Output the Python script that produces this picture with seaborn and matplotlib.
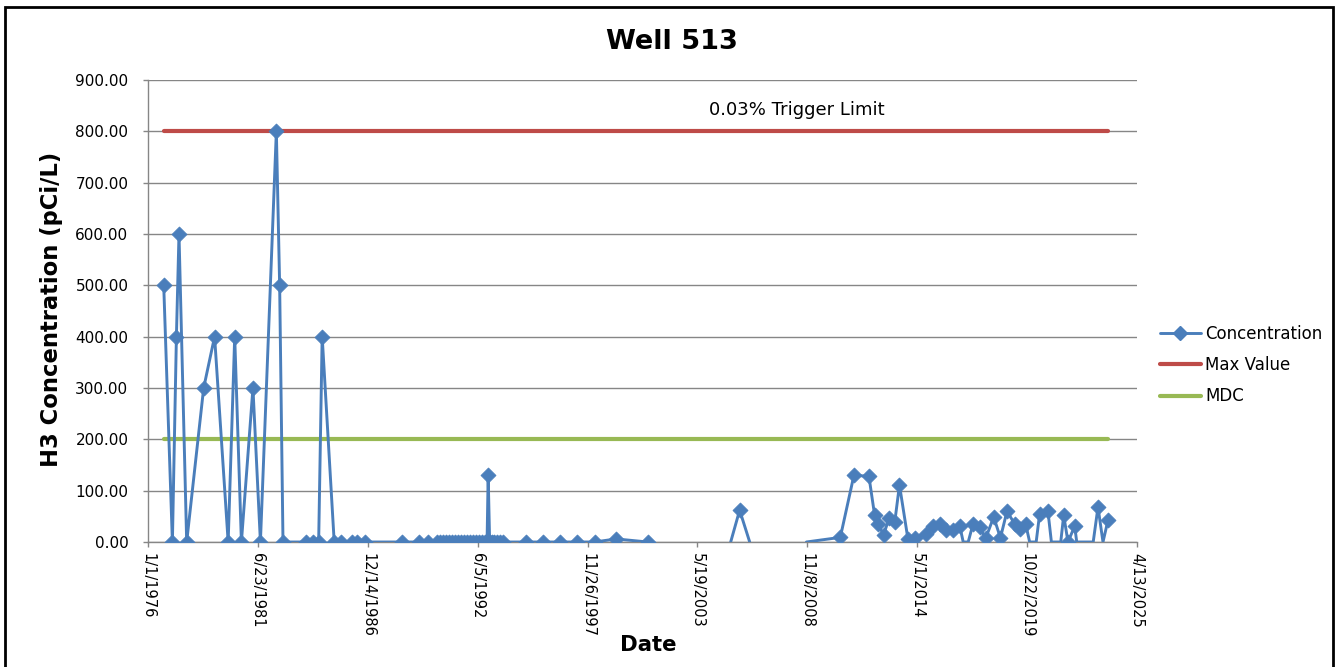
import matplotlib
matplotlib.use("Agg")
import numpy as np
import pandas as pd
import seaborn as sns
import matplotlib.pyplot as plt
from matplotlib.lines import Line2D
from matplotlib.patches import Rectangle
from matplotlib.ticker import FuncFormatter, MultipleLocator

# ---------------- data ----------------
conc_dates = [
    "1976-10-13", "1977-03-20", "1977-06-01", "1977-07-18", "1977-12-05",
    "1978-10-10", "1979-04-27", "1979-12-30", "1980-04-27", "1980-08-27",
    "1981-03-25", "1981-08-08", "1982-05-25", "1982-07-24", "1982-09-23",
    "1983-11-22", "1984-03-21", "1984-07-03", "1984-09-05", "1985-04-12",
    "1985-08-21", "1986-02-24", "1986-05-26", "1986-10-19", "1988-09-05",
    "1989-06-28", "1989-12-17", "1990-05-21", "1990-07-15", "1990-09-08",
    "1990-11-02", "1990-12-27", "1991-02-20", "1991-04-16", "1991-06-10",
    "1991-08-04", "1991-09-28", "1991-11-22", "1992-01-16", "1992-03-11",
    "1992-05-05", "1992-06-29", "1992-08-23", "1992-10-17", "1992-11-23",
    "1992-12-13", "1993-01-09", "1993-02-14", "1993-04-01", "1993-05-17",
    "1993-07-11", "1993-09-09", "1994-11-08", "1995-09-06", "1996-07-06",
    "1997-05-12", "1998-04-04", "1999-04-30", "2000-11-24",
    "2005-01-13", "2005-06-25", "2005-12-25",
    "2008-10-22", "2010-07-01", "2011-03-06", "2011-12-04", "2012-03-17",
    "2012-05-17", "2012-08-28", "2012-12-03", "2013-03-17", "2013-06-12",
    "2013-11-14", "2014-03-25", "2014-10-16", "2015-02-13", "2015-06-14",
    "2015-10-13", "2016-02-11", "2016-06-12", "2016-08-15", "2016-11-14",
    "2017-02-09", "2017-06-10", "2017-09-28", "2018-02-21", "2018-06-23",
    "2018-10-21", "2019-03-10", "2019-06-09", "2019-09-26", "2019-12-07",
    "2020-04-04", "2020-06-06", "2020-11-04", "2021-01-06", "2021-06-25",
    "2021-08-18", "2021-11-04", "2022-03-06", "2022-04-12", "2023-02-06",
    "2023-05-04", "2023-08-03", "2023-11-01",
]
conc_values = [
    500, 0, 400, 600, 0,
    300, 400, 0, 400, 0,
    300, 0, 800, 500, 0,
    0, 0, 0, 400, 0,
    0, 0, 0, 0, 0,
    0, 0, 0, 0, 0,
    0, 0, 0, 0, 0,
    0, 0, 0, 0, 0,
    0, 0, 0, 0, 0,
    130, 0, 0, 0, 0,
    0, 0, 0, 0, 0,
    0, 0, 6, 0,
    0, 62, 0,
    0, 9, 130, 128, 52,
    35, 14, 46, 38, 111,
    5, 7, 16, 32, 35,
    24, 24, 32, 0, 0,
    35, 29, 7, 49, 8,
    60, 35, 26, 35, 0,
    0, 55, 60, 0, 0,
    52, 0, 31, 0, 0,
    68, 0, 42,
]
# 1 = point drawn with a diamond marker, 0 = line vertex only
conc_marked = [
    1, 1, 1, 1, 1,
    1, 1, 1, 1, 1,
    1, 1, 1, 1, 1,
    1, 1, 1, 1, 1,
    1, 1, 1, 1, 1,
    1, 1, 1, 1, 1,
    1, 1, 1, 1, 1,
    1, 1, 1, 1, 1,
    1, 1, 1, 1, 1,
    1, 1, 1, 1, 1,
    1, 1, 1, 1, 1,
    1, 1, 1, 1,
    0, 1, 0,
    0, 1, 1, 1, 1,
    1, 1, 1, 1, 1,
    1, 1, 1, 1, 1,
    1, 1, 1, 0, 0,
    1, 1, 1, 1, 1,
    1, 1, 1, 1, 0,
    0, 1, 1, 0, 0,
    1, 1, 1, 0, 0,
    1, 0, 1,
]
# the concentration line is broken after these dates
line_breaks = ["2000-11-24", "2005-12-25"]

max_value = 800.0   # 0.03% trigger limit
mdc_value = 200.0

x_start, x_step_days, n_xticks = "1976-01-01", 2000, 10
y_max, y_step = 900, 100

title = "Well 513"
y_label = "H3 Concentration (pCi/L)"
x_label = "Date"
trigger_text = "0.03% Trigger Limit"
legend_labels = ["Concentration", "Max Value", "MDC"]

# ---------------- colours ----------------
c_blue = "#4A7EBB"
c_red = "#BE4B48"
c_green = "#98B954"
c_grid = "#868686"

# ---------------- frame ----------------
sns.set_theme(style="white")
plt.rcParams["font.family"] = ["DejaVu Sans"]
plt.rcParams["text.color"] = "black"
plt.rcParams["xtick.color"] = "black"
plt.rcParams["ytick.color"] = "black"

W, H = 1339, 667
fig = plt.figure(figsize=(W / 100, H / 100), dpi=100)
fig.patch.set_facecolor("white")
L, R, T, B = 148, 1137, 80, 542
ax = fig.add_axes([L / W, 1 - B / H, (R - L) / W, (B - T) / H])
ax.set_facecolor("white")

df = pd.DataFrame({
    "date": pd.to_datetime(conc_dates),
    "value": conc_values,
    "marked": conc_marked,
})
breaks = pd.to_datetime(line_breaks)
df["segment"] = [int((d > breaks).sum()) for d in df["date"]]

first, last = df["date"].min(), df["date"].max()
ref_df = pd.DataFrame({
    "date": [first, last, first, last],
    "value": [max_value, max_value, mdc_value, mdc_value],
    "series": ["Max Value", "Max Value", "MDC", "MDC"],
})

sns.lineplot(data=ref_df, x="date", y="value", hue="series",
             palette={"Max Value": c_red, "MDC": c_green},
             linewidth=3.0, ax=ax, legend=False, zorder=3)
sns.lineplot(data=df, x="date", y="value", units="segment", estimator=None,
             color=c_blue, linewidth=2.1, ax=ax, legend=False, zorder=4)
sns.scatterplot(data=df[df["marked"] == 1], x="date", y="value", marker="D",
                s=58, color=c_blue, edgecolor=c_blue, linewidth=0.6,
                ax=ax, legend=False, zorder=5)

# axes
x0 = pd.Timestamp(x_start)
xticks = [x0 + pd.Timedelta(days=x_step_days * i) for i in range(n_xticks)]
ax.set_xlim(xticks[0], xticks[-1])
ax.set_ylim(0, y_max)
ax.set_xticks(xticks)
ax.set_xticklabels([f"{d.month}/{d.day}/{d.year}" for d in xticks],
                   rotation=-90, ha="center", va="top", fontsize=10.5)
ax.yaxis.set_major_locator(MultipleLocator(y_step))
ax.yaxis.set_major_formatter(FuncFormatter(lambda v, p: f"{v:.2f}"))
ax.tick_params(axis="y", labelsize=11, length=3.6, width=1, color=c_grid,
               direction="out", pad=10.5, left=True, labelcolor="black")
ax.tick_params(axis="x", length=3.6, width=1, color=c_grid, direction="out",
               pad=4.5, bottom=True, labelcolor="black")
ax.set_xlabel("")
ax.set_ylabel("")
ax.yaxis.grid(True, color=c_grid, linewidth=1)
ax.xaxis.grid(False)
ax.set_axisbelow(True)
for s in ["top", "right"]:
    ax.spines[s].set_visible(False)
for s in ["left", "bottom"]:
    ax.spines[s].set_color(c_grid)
    ax.spines[s].set_linewidth(1)

# texts
fig.text(672 / W, 1 - 42 / H, title, ha="center", va="center",
         fontsize=19.5, fontweight="bold", color="black")
fig.text(52 / W, 1 - 309 / H, y_label, ha="center", va="center",
         rotation=90, fontsize=16.3, fontweight="bold", color="black")
fig.text(648 / W, 1 - 645 / H, x_label, ha="center", va="center",
         fontsize=15.3, fontweight="bold", color="black")
fig.text(797 / W, 1 - 110 / H, trigger_text, ha="center", va="center",
         fontsize=13, color="black")

# legend
handles = [
    Line2D([], [], color=c_blue, lw=2.1, marker="D", ms=7,
           markerfacecolor=c_blue, markeredgecolor=c_blue),
    Line2D([], [], color=c_red, lw=3.0),
    Line2D([], [], color=c_green, lw=3.0),
]
leg = fig.legend(handles, legend_labels, loc="center left",
                 bbox_to_anchor=(1160 / W, 1 - 365 / H), frameon=False,
                 fontsize=12, handlelength=2.45, handletextpad=0.25,
                 labelspacing=0.8, borderpad=0, borderaxespad=0)
for t in leg.get_texts():
    t.set_color("black")

# chart border
fig.patches.append(Rectangle((5 / W, -0.05), (1333 - 5) / W, 1 - 7 / H + 0.05,
                             transform=fig.transFigure, fill=False,
                             edgecolor="black", linewidth=2, zorder=10))

fig.savefig("out.png", dpi=100, facecolor="white")
